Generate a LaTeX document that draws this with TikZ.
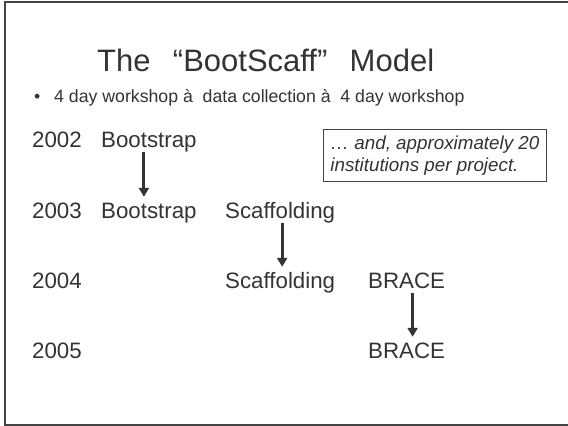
\documentclass[tikz,border=0pt]{standalone}
\usepackage{fontspec}
\setmainfont{Liberation Sans}
\usetikzlibrary{arrows.meta}
\definecolor{slidegray}{HTML}{333333}
\definecolor{framegray}{HTML}{444444}
\begin{document}
\begin{tikzpicture}[x=1pt,y=-1pt,
    every node/.style={inner sep=0pt, anchor=base west, text=slidegray},
    yr/.style={font=\fontsize{22.3}{26}\selectfont, text height=15pt, text depth=4.5pt},
    carryon/.style={draw=slidegray, line width=3pt, -{Triangle[width=10pt,length=9pt]}, shorten >=6pt}]
  \useasboundingbox (0,0) rectangle (568,426);
  \draw[framegray, line width=2pt] (569,2) -- (4.5,2) -- (4.5,424.5) -- (569,424.5); %frame
  \node (title) at (97,71) {\fontsize{31}{36}\selectfont The\hspace{0.72em}“BootScaff”\hspace{0.72em}Model};
  \node (dot) at (34,102) {\fontsize{17.7}{20}\selectfont •};
  \node (plan) at (54,102) {\fontsize{17.7}{20}\selectfont 4 day workshop à\ \ data collection à\ \ 4 day workshop};
  \node[draw=framegray, line width=0.8pt, anchor=north west, align=left, inner xsep=7pt, inner ysep=6pt,
        font=\fontsize{18.8}{22}\itshape\selectfont] (note) at (323,129) {… and, approximately 20\\institutions per project.};
  % years
  \node[yr] (y02) at (32,147) {2002};
  \node[yr] (y03) at (32,218) {2003};
  \node[yr] (y04) at (32,288) {2004};
  \node[yr] (y05) at (32,358) {2005};
  % projects
  \node[yr] (b02) at (101,147) {Bootstrap};
  \node[yr] (b03) at (101,218) {Bootstrap};
  \node[yr] (s03) at (225,218) {Scaffolding};
  \node[yr] (s04) at (225,288) {Scaffolding};
  \node[yr] (r04) at (368,288) {BRACE};
  \node[yr] (r05) at (368,358) {BRACE};
  \draw[carryon] ([xshift=-5pt]b02.south) -- ([xshift=-5pt]b03.north);
  \draw[carryon] ([xshift=2pt]s03.south) -- ([xshift=2pt]s04.north);
  \draw[carryon] ([xshift=6pt]r04.south) -- ([xshift=6pt]r05.north);
\end{tikzpicture}
\end{document}
